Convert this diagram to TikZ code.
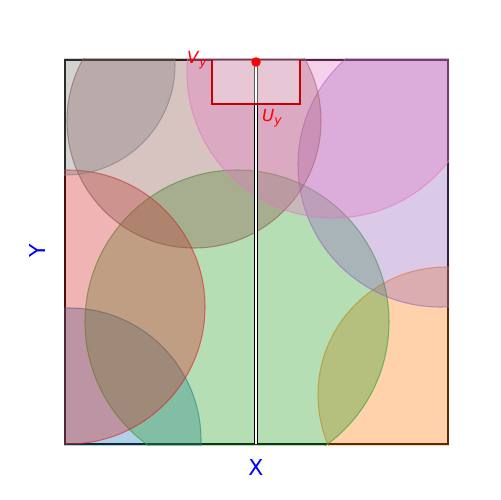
\documentclass[tikz,border=0pt]{standalone}
\usepackage{fontspec}
\setmainfont{DejaVu Sans}
\definecolor{tabblue}{HTML}{1F77B4}
\definecolor{taborange}{HTML}{FF7F0E}
\definecolor{tabgreen}{HTML}{2CA02C}
\definecolor{tabred}{HTML}{D62728}
\definecolor{tabpurple}{HTML}{9467BD}
\definecolor{tabbrown}{HTML}{8C564B}
\definecolor{tabpink}{HTML}{E377C2}
\definecolor{tabgray}{HTML}{7F7F7F}
\definecolor{setred}{HTML}{C80000}
\newcommand{\setlbl}[2]{\textit{#1}\raisebox{-0.35ex}{\fontsize{7}{8}\selectfont\textit{#2}}}

\begin{document}
\begin{tikzpicture}[x=0.02cm, y=-0.02cm,
  disc/.style={fill=#1, draw=#1, fill opacity=0.35, draw opacity=0.6, line width=0.6pt},
  every node/.style={inner sep=0pt}]
\useasboundingbox (0,0) rectangle (500,500);
\coordinate (nw) at (65,60);
\coordinate (se) at (448,444);
\draw[line width=1.1pt] (nw) rectangle (se);
% open sets
\begin{scope}
\clip (64,59) rectangle (449,445);
\fill[disc=tabblue] (69,440) circle (132);
\fill[disc=taborange] (446,395) circle (128);
\fill[disc=tabgreen] (237,322) circle (152);
\fill[disc=tabred] (68,307) circle (137);
\fill[disc=tabpurple] (440,165) circle (142);
\fill[disc=tabbrown] (194,121) circle (127);
\fill[disc=tabpink] (333,72) circle (146);
\fill[disc=tabgray] (65,65) circle (110);
\end{scope}
% fibre over y
\coordinate (ftop) at (256,60);
\coordinate (fbot) at (256,444);
\draw[line width=2.4pt] (ftop) -- (fbot);
\draw[white, line width=1.2pt] (ftop) -- (fbot);
% V_y
\fill[white, opacity=0.35] (212,60) rectangle (300,104);
\draw[setred, line width=1.3pt] (212,60) -- (212,104) -- (300,104) -- (300,60);
\node[circle, fill=red, minimum size=0.19cm] (pt) at (256,62) {};
\node[text=red, font=\fontsize{9.5}{11}\selectfont] (V) at (197,60) {\setlbl{V}{y}};
\node[text=red, font=\fontsize{9.5}{11}\selectfont] (U) at (272,118) {\setlbl{U}{y}};
\node[text=blue, font=\fontsize{12.5}{14}\selectfont] (X) at (256,467) {X};
\node[text=blue, font=\fontsize{12.5}{14}\selectfont, rotate=90] (Y) at (37,251) {Y};
\end{tikzpicture}
\end{document}
